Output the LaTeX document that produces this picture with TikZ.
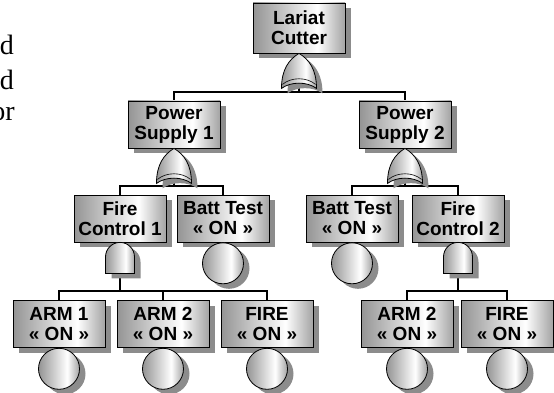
\documentclass[tikz,border=0pt]{standalone}
\usepackage{fontspec}
\setmainfont{Liberation Serif}
\newfontfamily\eventfont{Liberation Sans}
\usetikzlibrary{shadows,backgrounds}

% metallic left-to-right shading used by every box, gate and circle
\pgfdeclarehorizontalshading{silver}{100bp}{%
  color(0bp)=(black!42); color(25bp)=(black!42); color(60bp)=(white);
  color(75bp)=(black!36); color(100bp)=(black!36)}

\colorlet{shadowgray}{black!45}

\tikzset{
  x=1pt, y=-1pt,
  castshadow/.style={drop shadow={shadow xshift=6pt, shadow yshift=-5pt,
      fill=shadowgray, opacity=1}},
  event/.style={draw=black, line width=0.8pt, shade, shading=silver,
    minimum width=92pt, minimum height=47pt, inner sep=0pt, align=center,
    font=\eventfont\bfseries\fontsize{19}{20}\selectfont, castshadow},
  basic/.style={circle, draw=black, line width=0.8pt, shade, shading=silver,
    minimum size=41pt, inner sep=0pt, castshadow},
  wire/.style={draw=black, line width=1.3pt},
  side/.style={inner sep=0pt, anchor=base east,
    font=\fontsize{28}{34}\selectfont},
  % OR gate: origin at the tip, horns 35 below
  orgate/.pic={
    \fill[shadowgray, shift={(6,5)}]
      (-17.5,35) .. controls (-17.5,16) and (-10,6) .. (0,0)
      .. controls (10,6) and (17.5,16) .. (17.5,35)
      .. controls (8,28) and (-8,28) .. cycle;
    \draw[line width=0.8pt, shade, shading=silver]
      (-17.5,35) .. controls (-17.5,16) and (-10,6) .. (0,0)
      .. controls (10,6) and (17.5,16) .. (17.5,35)
      .. controls (8,28) and (-8,28) .. cycle;
    \draw[line width=0.6pt]
      (-16.5,31) .. controls (-8,23.5) and (8,23.5) .. (16.5,31);
    \coordinate (-out) at (0,29.8);
  },
  % AND gate: origin at the top of the dome, flat base 31 below
  andgate/.pic={
    \fill[shadowgray, shift={(6,5)}]
      (-14.5,31) -- (-14.5,14.5) .. controls (-14.5,6.5) and (-8,0) .. (0,0)
      .. controls (8,0) and (14.5,6.5) .. (14.5,14.5) -- (14.5,31) -- cycle;
    \draw[line width=0.8pt, shade, shading=silver]
      (-14.5,31) -- (-14.5,14.5) .. controls (-14.5,6.5) and (-8,0) .. (0,0)
      .. controls (8,0) and (14.5,6.5) .. (14.5,14.5) -- (14.5,31) -- cycle;
    \coordinate (-out) at (0,31);
  },
}

\begin{document}
\begin{tikzpicture}
\useasboundingbox (0,0) rectangle (554,393);
\clip (0,0) rectangle (554,393);

% tail of the neighbouring paragraph
\node[side] (t1) at (14,55) {d};
\node[side] (t2) at (14,90) {d};
\node[side] (t3) at (15,121) {or};

% top event and its OR gate
\node[event, minimum height=50pt] (lc) at (299,28) {Lariat\\Cutter};
\pic (g0) at (lc.south) {orgate};

% power supplies
\node[event] (ps1) at (174,124.5) {Power\\Supply 1};
\node[event] (ps2) at (405,124.5) {Power\\Supply 2};
\pic (g1) at (ps1.south) {orgate};
\pic (g2) at (ps2.south) {orgate};

% third row
\node[event] (fc1) at (120,218.5) {Fire\\Control 1};
\node[event] (bt1) at (223,218.5) {Batt Test\\« ON »};
\node[event] (bt2) at (352,218.5) {Batt Test\\« ON »};
\node[event] (fc2) at (458,218.5) {Fire\\Control 2};
\pic (a1) at (fc1.south) {andgate};
\pic (a2) at (fc2.south) {andgate};
\node[basic, anchor=north] (e1) at (bt1.south) {};
\node[basic, anchor=north] (e2) at (bt2.south) {};

% bottom row
\node[event] (arm1)  at (59,324)  {ARM 1\\« ON »};
\node[event] (arm2)  at (163,324) {ARM 2\\« ON »};
\node[event] (fire1) at (267,324) {FIRE\\« ON »};
\node[event] (arm2r) at (407,324) {ARM 2\\« ON »};
\node[event] (fire2) at (507,324) {FIRE\\« ON »};
\foreach \b/\c in {arm1/e3, arm2/e4, fire1/e5, arm2r/e6, fire2/e7}
  \node[basic, anchor=north] (\c) at (\b.south) {};

% connectors behind the shapes
\begin{scope}[on background layer]
  \draw[wire] (g0-out) -- (g0-out |- 0,92);
  \draw[wire] (ps1.north) |- (ps2.north |- 0,92) -- (ps2.north);

  \draw[wire] (g1-out) -- (g1-out |- 0,186);
  \draw[wire] (fc1.north) |- (bt1.north |- 0,186) -- (bt1.north);
  \draw[wire] (g2-out) -- (g2-out |- 0,186);
  \draw[wire] (bt2.north) |- (fc2.north |- 0,186) -- (fc2.north);

  \draw[wire] (a1-out) -- (a1-out |- 0,291);
  \draw[wire] (arm1.north) |- (fire1.north |- 0,291) -- (fire1.north);
  \draw[wire] (arm2.north) -- (arm2.north |- 0,291);
  \draw[wire] (a2-out) -- (a2-out |- 0,291);
  \draw[wire] (arm2r.north) |- (fire2.north |- 0,291) -- (fire2.north);
\end{scope}
\end{tikzpicture}
\end{document}
